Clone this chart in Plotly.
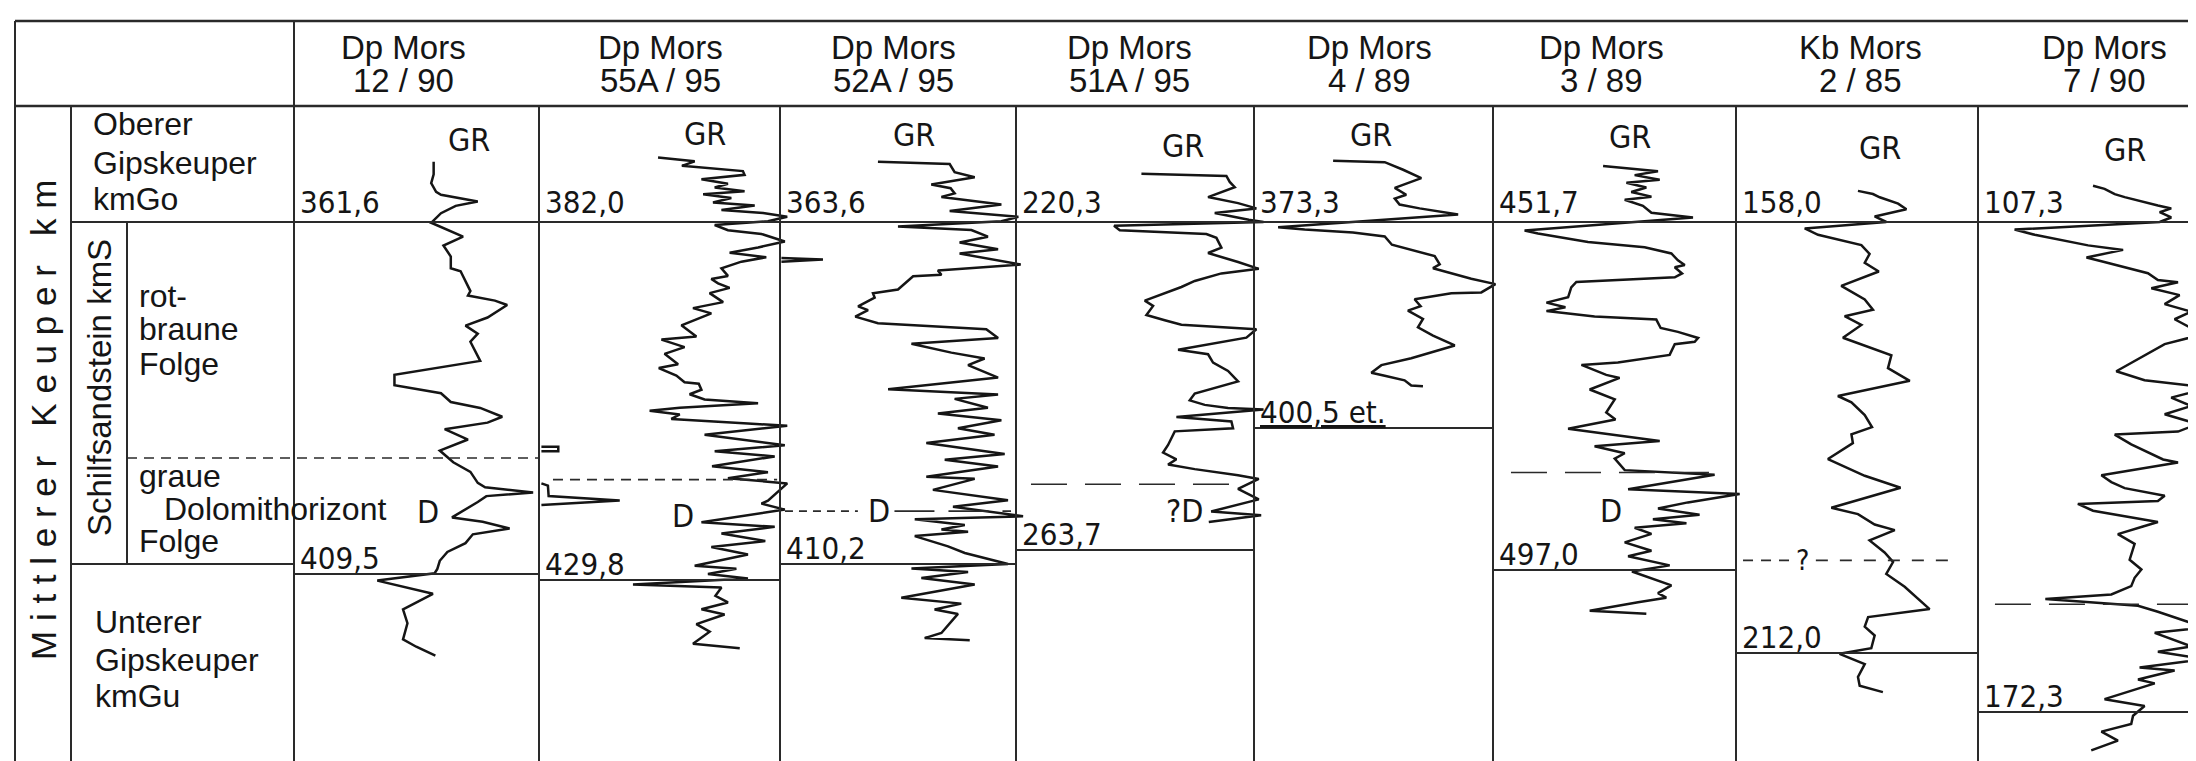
import plotly.graph_objects as go

W, H = 2196, 761

# ------------------------------------------------------------------ data
well_names = ["Dp Mors", "Dp Mors", "Dp Mors", "Dp Mors", "Dp Mors", "Dp Mors", "Kb Mors", "Dp Mors"]
well_ids = ["12 / 90", "55A / 95", "52A / 95", "51A / 95", "4 / 89", "3 / 89", "2 / 85", "7 / 90"]
top_depth = [361.6, 382.0, 363.6, 220.3, 373.3, 451.7, 158.0, 107.3]
base_depth = [409.5, 429.8, 410.2, 263.7, 400.5, 497.0, 212.0, 172.3]
base_suffix = ["", "", "", "", " et.", "", "", ""]
# depth of the rotbraune / graue Folge boundary (None = not reached)
boundary_depth = [393.9, 416.4, 403.0, 255.0, None, 484.3, 200.4, 158.0]

# Gamma-ray logs (GR in % of track width, depth in m)
gr_1290 = [57, 57, 56, 58, 60, 75, 66, 60, 56, 69, 61, 64, 64, 68, 72, 71, 82, 87, 79, 70,
           75, 72, 76, 41, 41, 60, 64, 76, 85, 79, 61.5, 71, 59.5, 65, 72, 75, 78, 97.6, 78.5, 75,
           64.5, 77, 88, 73, 70, 62.6, 59.5, 58.5, 57.4, 34, 56.7, 44.5, 46.3, 44.5, 49.9, 57.7]
dep_1290 = [353.4, 355.1, 356.3, 357.5, 357.9, 358.8, 359.4, 360.4, 361.7, 363.6, 364.8, 366.3, 367.9, 368.3,
            371.0, 371.6, 372.3, 372.9, 374.6, 375.7, 376.8, 377.9, 380.5, 382.4, 383.8, 384.9, 386.1, 386.9,
            388.1, 388.9, 389.8, 391.2, 392.7, 394.3, 395.6, 397.1, 397.7, 398.4, 398.9, 399.7, 401.8, 402.4,
            403.3, 404.1, 405.3, 406.5, 407.7, 408.8, 409.4, 410.4, 412.2, 414.3, 416.2, 418.4, 419.4, 420.6]

gr_55a = [49.4, 64.6, 59.3, 84.6, 85.3, 67.4, 78.4, 72.9, 85.3, 68.1,
          79.8, 72.2, 89.5, 75.7, 93, 103, 95, 72.9, 78.4, 92.3,
          102, 90.9, 79.1, 94.3, 84, 75.7, 78.4, 71.5, 74.3, 79.1,
          70.8, 76.4, 63.9, 71.5, 59.1, 65.3, 50.8, 60.4, 52.1, 57.7,
          49.7, 57, 60.4, 66.3, 67.4, 62.5, 68.7, 90.9, 58.4, 45.9,
          58.4, 54.9, 86.7, 103, 68.7, 102, 72.9, 97.8, 71.8, 95,
          78.4, 103, 95, 92.3, 102, 67.4, 97.8, 75.7, 93.9, 71.5,
          86.7, 64.6, 81.9, 70.1, 86.7, 39, 75.7, 73.2, 78.4, 67.4,
          77, 65.3, 70.8, 63.9, 83.3]
dep_55a = [373.4, 373.9, 374.5, 375.2, 375.7, 376.3, 376.9, 377.4, 377.9, 378.3,
           378.8, 379.4, 379.8, 380.4, 380.8, 381.3, 381.9, 382.4, 383.1, 383.6,
           384.6, 385.4, 386.1, 386.7, 387.3, 388.2, 389.2, 389.6, 390.2, 390.8,
           391.5, 392.7, 393.5, 394.2, 395.8, 397.3, 397.7, 398.7, 399.6, 401.0,
           401.5, 402.5, 403.4, 403.6, 404.4, 405.0, 405.7, 406.2, 406.8, 407.2,
           407.7, 408.3, 408.9, 409.2, 410.4, 411.8, 412.6, 413.3, 414.6, 415.4,
           416.2, 416.9, 419.2, 419.6, 420.4, 422.1, 422.7, 423.6, 424.6, 425.4,
           426.4, 427.9, 428.3, 429.0, 429.6, 430.4, 430.8, 431.9, 432.8, 433.7,
           434.4, 435.7, 436.7, 438.3, 438.9]
# wrapped-around parts of the 55A log (backup scale)
gr_55a_wrap = [1, 8, 8, 1, None, 1, 3.7, 4, 33.5, 1]
dep_55a_wrap = [412.0, 412.0, 412.6, 412.6, None, 416.9, 417.2, 418.6, 419.2, 419.8]

gr_52a = [41.5, 71.9, 74, 82.5, 64.1, 72.3, 74, 68.4, 93.8, 71.9,
          101, 93.8, 50, 81.1, 88.1, 76.1, 92.4, 76.1, 102, 66.9,
          68.4, 56.4, 50, 39.4, 40.1, 33.1, 37.3, 31.9, 41.5, 87.4,
          92.4, 55.7, 72.6, 86.7, 79.7, 92.4, 45.8, 92.4, 74, 88.1,
          66.9, 93.8, 75.4, 90.9, 62, 95.2, 69.8, 92.4, 62, 82.5,
          64.8, 96.6, 73.3, 103, 57.1, 78.3, 68.4, 79.7, 57.1, 71.2,
          78.3, 96.6, 55.7, 79.7, 59.9, 82.5, 51.4, 76.8, 65.5, 75.4,
          68.4, 61.3, 80.4]
dep_52a = [355.4, 355.7, 356.8, 357.5, 358.5, 359.0, 359.7, 360.2, 361.2, 362.1,
           362.9, 363.5, 364.2, 364.7, 365.6, 366.4, 367.3, 367.9, 369.4, 370.2,
           370.8, 371.0, 372.8, 373.3, 373.9, 375.1, 375.6, 376.5, 377.4, 378.2,
           379.4, 380.2, 381.4, 382.2, 383.1, 384.8, 386.4, 387.1, 387.7, 388.9,
           389.7, 390.6, 391.7, 392.6, 393.7, 395.2, 396.0, 396.9, 398.3, 398.6,
           400.1, 401.5, 402.4, 403.7, 404.1, 404.9, 405.5, 405.8, 406.4, 407.8,
           408.7, 410.2, 410.8, 411.3, 412.1, 413.0, 414.8, 415.6, 416.4, 417.0,
           419.6, 420.3, 420.6]
gr_52a_wrap = [0.6, 18.2, 0.6]
dep_52a_wrap = [368.5, 368.7, 369.0]

gr_51a = [52.7, 88.4, 89.8, 91.9, 80.7, 93.3, 101, 83.5, 97.8, 104,
          41.2, 43.6, 80, 84.2, 86.3, 80.7, 93.3, 102, 86.3, 75.1,
          69.5, 59.7, 54.1, 57.6, 54.8, 62.5, 69.5, 101, 96.8, 68.1,
          80.7, 82.8, 89.1, 93.3, 75.1, 73, 79.3, 89.1, 104, 67.4,
          90.5, 91.2, 66.7, 63.9, 61.8, 67.4, 63.9, 75.1, 93.3, 102,
          93.3, 96.4, 102, 82, 103, 81]
dep_51a = [213.9, 214.2, 215.0, 215.7, 217.0, 217.8, 218.5, 219.1, 220.0, 220.3,
           220.8, 221.4, 221.9, 222.4, 223.7, 224.4, 225.6, 226.5, 227.1, 228.1,
           228.9, 230.0, 230.7, 231.4, 232.6, 233.3, 233.9, 234.5, 235.6, 237.2,
           237.8, 238.9, 240.0, 241.4, 243.0, 243.9, 244.5, 244.9, 245.1, 246.1,
           246.7, 247.6, 248.0, 249.8, 250.8, 251.7, 252.4, 253.0, 253.8, 254.3,
           255.6, 256.1, 257.0, 258.6, 259.1, 260.0]

gr_489 = [33.1, 54.7, 62.4, 70, 58.9, 63.7, 58.9, 60.9, 69.3, 85.4,
          10.1, 21.2, 41.4, 54.7, 57.7, 75.6, 77.7, 74.9, 90.9, 101,
          95.1, 82.6, 67.2, 69.7, 64.4, 70.7, 68.6, 74.9, 84, 65.8,
          53.3, 49.1, 54.7, 63, 65.8, 70.7]
dep_489 = [365.2, 365.4, 366.4, 367.5, 368.8, 369.7, 370.2, 371.0, 371.5, 372.3,
           374.0, 374.3, 374.7, 375.2, 376.3, 377.8, 378.9, 379.4, 380.8, 381.5,
           382.6, 382.7, 383.5, 384.4, 385.0, 386.1, 387.2, 388.3, 389.6, 391.3,
           392.2, 393.2, 393.6, 394.2, 394.9, 395.0]

gr_389 = [45.3, 67.9, 58.3, 68.6, 54.9, 63.1, 56.9, 65.2, 54.2, 61.7,
          65.2, 82.3, 13.0, 18.5, 39.1, 62.4, 73.4, 76.1, 78.9, 74.8,
          77.8, 74.8, 34.3, 32.2, 30.9, 22, 29.8, 22, 41.8, 67.2,
          69, 76.1, 84.4, 83, 74.8, 72.7, 51.4, 36.4, 46.6, 52.1,
          39.8, 50.1, 46.6, 50.4, 30.9, 68.6, 41.8, 54.2, 50.1, 54.2,
          91.2, 55.6, 101.5, 80.2, 67.9, 85, 65.8, 79.6, 58.3, 65.2,
          54.2, 65.2, 55.6, 72.7, 57.2, 73.4, 67.9, 71.3, 59.7, 39.8,
          63.1]
dep_389 = [444.4, 445.1, 445.6, 446.2, 446.6, 447.2, 447.8, 448.4, 448.8, 449.6,
           450.5, 451.1, 452.8, 453.2, 454.3, 455.0, 455.8, 456.7, 457.3, 457.6,
           458.4, 458.9, 459.5, 460.2, 461.5, 462.2, 462.8, 463.3, 464.0, 464.4,
           465.5, 466.0, 466.8, 467.3, 467.6, 469.0, 470.0, 470.3, 471.6, 472.0,
           473.5, 474.8, 476.5, 477.4, 478.6, 480.2, 480.9, 481.8, 482.5, 484.0,
           484.6, 486.5, 487.1, 488.2, 489.0, 489.8, 490.4, 490.9, 491.5, 492.3,
           493.4, 494.5, 495.2, 496.4, 497.2, 499.0, 500.0, 500.6, 501.2, 502.3,
           502.7]

gr_285 = [50.4, 56.6, 59.4, 67, 70.4, 57.3, 62.1, 28.4, 33.9, 51.8,
          55.2, 53.2, 59, 43.5, 53.2, 56.6, 44.9, 51.8, 44.2, 64.2,
          62.8, 71.8, 42.1, 47.7, 53.2, 56.2, 47.7, 48.3, 38, 44.9,
          53.2, 68, 39.4, 50.4, 57.3, 65.6, 55.2, 61.4, 64.9, 62.1,
          69.7, 80, 54.6, 53.2, 57.3, 55.9, 42.8, 53.2, 50.4, 51.1,
          60.7]
dep_285 = [154.1, 154.5, 154.9, 155.7, 156.4, 157.3, 158.0, 158.8, 159.6, 160.9,
           162.0, 163.1, 164.2, 166.0, 167.7, 169.0, 169.8, 170.9, 172.5, 174.7,
           176.3, 177.9, 179.8, 180.6, 182.2, 183.7, 184.6, 185.7, 187.7, 188.7,
           189.8, 191.3, 193.8, 194.6, 195.9, 196.6, 197.9, 199.4, 200.6, 202.1,
           203.7, 206.5, 207.5, 208.7, 209.8, 211.4, 212.1, 213.4, 215.0, 216.1,
           216.9]

gr_790 = [50.9, 56.0, 60.5, 64.9, 79.6, 85.5, 80.4, 85.5, 80.4, 16.2,
          25.1, 36.9, 48.7, 64.2, 48, 54.6, 75.2, 79.6, 88.5, 76.7,
          89.2, 82.6, 94.4, 87, 99.5, 82.6, 61.2, 73.7, 94.4, 99.5,
          85.5, 94.4, 82.6, 97.3, 88.5, 60.5, 67.8, 81.9, 88.5, 54.6,
          59, 64.9, 82.6, 79.6, 44.2, 50.9, 79.6, 73, 61.9, 69.3,
          67.1, 72.3, 69.3, 67.8, 59, 29.8, 70.8, 79.6, 100.3, 78.2,
          94.4, 79.6, 100.3, 71.5, 87, 70.8, 78.2, 56, 73.7, 68.6,
          67.8, 54.6, 61.9, 50.1]
dep_790 = [102.5, 102.9, 103.6, 104.0, 105.1, 105.5, 106.0, 106.7, 107.3, 108.3,
           109.0, 109.7, 110.4, 111.0, 112.0, 112.5, 114.1, 115.0, 115.3, 116.1,
           117.0, 118.2, 119.2, 120.2, 122.2, 123.5, 127.1, 128.3, 129.0, 129.5,
           130.6, 131.7, 132.8, 134.1, 135.1, 135.5, 136.8, 138.8, 139.2, 140.9,
           141.8, 142.6, 143.6, 144.3, 144.7, 145.6, 147.1, 147.7, 148.7, 150.0,
           152.1, 153.4, 154.5, 155.6, 156.7, 157.3, 158.2, 159.0, 161.1, 161.8,
           163.6, 164.3, 165.3, 166.4, 166.8, 168.0, 168.5, 170.6, 171.5, 172.8,
           173.9, 174.9, 176.1, 177.4]

logs = [(gr_1290, dep_1290), (gr_55a, dep_55a), (gr_52a, dep_52a), (gr_51a, dep_51a),
        (gr_489, dep_489), (gr_389, dep_389), (gr_285, dep_285), (gr_790, dep_790)]
wrap_logs = [(1, gr_55a_wrap, dep_55a_wrap), (2, gr_52a_wrap, dep_52a_wrap)]

# "D" (Dolomithorizont) marks: well index, GR position, depth, text
d_well = [0, 1, 2, 3, 5]
d_gr = [54.7, 59.8, 42.0, 71.0, 48.6]
d_depth = [401.0, 421.2, 403.0, 258.6, 489.3]
d_text = ["D", "D", "D", "?D", "D"]

# ------------------------------------------------------------------ layout constants (pixels)
COL = [286, 531, 772, 1008, 1246, 1485, 1728, 1970, 2196]
Y_TOP, Y_HEAD, Y_KMGO = 13, 98, 214
BASE_PX = [566, 572, 556, 542, 420, 562, 645, 704]
HEAD_X = [395, 652, 885, 1121, 1361, 1593, 1852, 2096]
GR_X = [461, 697, 906, 1175, 1363, 1622, 1872, 2117]
GR_Y = [132, 126, 127, 138, 127, 129, 140, 142]

SANS = "Liberation Sans, Arial, sans-serif"
TECH = "Liberation Sans Narrow, DejaVu Sans Condensed, Arial Narrow, sans-serif"
INK = "#151515"
GRID = "#2a2a2a"
TS = 31  # size of the technical lettering


def px(x):
    return x / W


def py(y):
    return 1 - y / H


fig = go.Figure()
layout = dict(width=W, height=H, margin=dict(l=0, r=0, t=0, b=0),
              paper_bgcolor="white", plot_bgcolor="white", showlegend=False)

for i in range(8):
    l, r = COL[i], COL[i + 1]
    w = r - l
    k = (base_depth[i] - top_depth[i]) / (BASE_PX[i] - Y_KMGO)
    d_top = top_depth[i] - Y_KMGO * k
    d_bot = top_depth[i] + (H - Y_KMGO) * k
    sfx = "" if i == 0 else str(i + 1)
    xa = dict(range=[-l / w * 100, (W - l) / w * 100], visible=False, fixedrange=True,
              domain=[0, 1], anchor="y" + sfx)
    ya = dict(range=[d_bot, d_top], visible=False, fixedrange=True,
              domain=[0, 1], anchor="x" + sfx)
    if i > 0:
        xa["overlaying"] = "x"
        ya["overlaying"] = "y"
    layout["xaxis" + sfx] = xa
    layout["yaxis" + sfx] = ya

for i, (g, d) in enumerate(logs):
    sfx = "" if i == 0 else str(i + 1)
    fig.add_trace(go.Scatter(x=g, y=d, mode="lines", xaxis="x" + sfx, yaxis="y" + sfx,
                             line=dict(color=INK, width=2.5), hoverinfo="skip"))
for i, g, d in wrap_logs:
    sfx = "" if i == 0 else str(i + 1)
    fig.add_trace(go.Scatter(x=g, y=d, mode="lines", xaxis="x" + sfx, yaxis="y" + sfx,
                             line=dict(color=INK, width=2.5), hoverinfo="skip", connectgaps=False))

shapes = []


def hline(x0, x1, y, width=2, dash=None):
    s = dict(type="line", xref="paper", yref="paper", x0=px(x0), x1=px(x1), y0=py(y), y1=py(y),
             line=dict(color=GRID, width=width))
    if dash:
        s["line"]["dash"] = dash
    shapes.append(s)


def vline(x, y0, y1, width=2):
    shapes.append(dict(type="line", xref="paper", yref="paper", x0=px(x), x1=px(x), y0=py(y0), y1=py(y1),
                       line=dict(color=GRID, width=width)))


# frame / table grid
hline(7, W, Y_TOP, 2.5)
hline(7, W, Y_HEAD, 2.5)
vline(7, Y_TOP, H)
vline(COL[0], Y_TOP, H)
vline(63, Y_HEAD, H)
vline(119, Y_KMGO, 556)
hline(63, W, Y_KMGO)
hline(63, COL[0], 556)
hline(119, COL[1], 450, 1.6, "10px,7px")
for c in COL[1:-1]:
    vline(c, Y_HEAD, H)
for i in range(8):
    hline(COL[i], COL[i + 1], BASE_PX[i])


def wline(i, g0, g1, depth, dash, width=1.6):
    sfx = "" if i == 0 else str(i + 1)
    shapes.append(dict(type="line", xref="x" + sfx, yref="y" + sfx, x0=g0, x1=g1, y0=depth, y1=depth,
                       line=dict(color=GRID, width=width, dash=dash)))


# boundary rotbraune / graue Folge inside wells
wline(1, 5.8, 98.8, boundary_depth[1], "10px,7px")
wline(2, 2.1, 33.0, boundary_depth[2], "8px,6px")
wline(2, 48.5, 97.9, boundary_depth[2], "40px,14px")
wline(3, 6.3, 93.3, boundary_depth[3], "36px,18px")
wline(5, 7.4, 91.4, boundary_depth[5], "36px,18px")
wline(6, 2.9, 22.0, boundary_depth[6], "10px,8px")
wline(6, 33.0, 88.4, boundary_depth[6], "12px,12px")
wline(7, 7.5, 98.7, boundary_depth[7], "36px,18px")

anns = []


def text(t, x, y, size, font=SANS, xanchor="center", angle=0):
    anns.append(dict(text=t, x=px(x), y=py(y), xref="paper", yref="paper", showarrow=False,
                     xanchor=xanchor, yanchor="middle", textangle=angle, borderpad=0,
                     font=dict(family=font, size=size, color=INK)))


# header
for i in range(8):
    text(well_names[i], HEAD_X[i], 39, 33)
    text(well_ids[i], HEAD_X[i], 73, 33)

# stratigraphic labels
text("Oberer", 84, 116, 32, xanchor="left")
text("Gipskeuper", 84, 155, 32, xanchor="left")
text("kmGo", 84, 191, 32, xanchor="left")
text("rot-", 130, 288, 32, xanchor="left")
text("braune", 130, 321, 32, xanchor="left")
text("Folge", 130, 356, 32, xanchor="left")
text("graue", 130, 468, 32, xanchor="left")
text("Dolomithorizont", 155, 501, 32, xanchor="left")
text("Folge", 130, 533, 32, xanchor="left")
text("Unterer", 86, 614, 32, xanchor="left")
text("Gipskeuper", 86, 652, 32, xanchor="left")
text("kmGu", 86, 688, 32, xanchor="left")
text("M i t t l e r e r   K e u p e r   k m", 35, 412, 35, angle=-90)
text("Schilfsandstein kmS", 91, 380, 33, angle=-90)

# well depth labels and GR titles
for i in range(8):
    text(f"{top_depth[i]:.1f}".replace(".", ","), COL[i] + 5, 194, TS, font=TECH, xanchor="left")
    lab = f"{base_depth[i]:.1f}".replace(".", ",") + base_suffix[i]
    if base_suffix[i]:
        lab = "<u>" + lab + "</u>"
    text(lab, COL[i] + 5, BASE_PX[i] - 16, TS, font=TECH, xanchor="left")
    text("GR", GR_X[i], GR_Y[i], TS + 1, font=TECH)

# D marks
for wi, g, d, t in zip(d_well, d_gr, d_depth, d_text):
    sfx = "" if wi == 0 else str(wi + 1)
    anns.append(dict(text=t, x=g, y=d, xref="x" + sfx, yref="y" + sfx, showarrow=False,
                     xanchor="center", yanchor="middle", borderpad=0,
                     font=dict(family=TECH, size=TS + 1, color=INK)))
# question mark on the 2/85 boundary
anns.append(dict(text="?", x=27.5, y=boundary_depth[6], xref="x7", yref="y7", showarrow=False,
                 xanchor="center", yanchor="middle", borderpad=0,
                 font=dict(family=TECH, size=28, color=INK)))

layout["shapes"] = shapes
layout["annotations"] = anns
fig.update_layout(**layout)
fig.write_html("out.html")
